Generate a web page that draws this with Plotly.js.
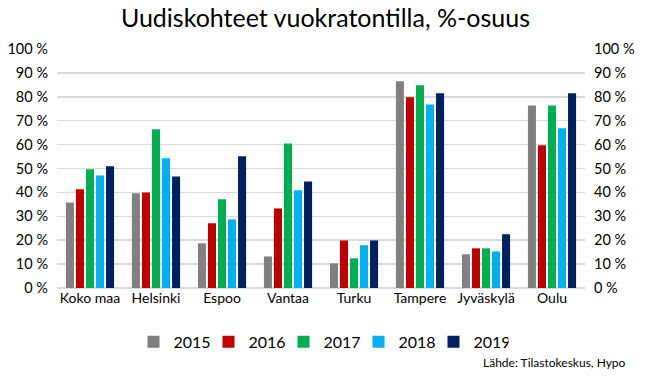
<!DOCTYPE html>
<html>
<head>
<meta charset="utf-8">
<script src="https://cdn.plot.ly/plotly-3.0.1.min.js"></script>
<style>html,body{margin:0;padding:0;background:#fff;}#chart{width:651px;height:377px;}</style>
</head>
<body>
<div id="chart"></div>
<script>
const categories = ["Koko maa", "Helsinki", "Espoo", "Vantaa", "Turku", "Tampere", "Jyväskylä", "Oulu"];
const years = ["2015", "2016", "2017", "2018", "2019"];
const v2015 = [35.8, 39.6, 18.7, 13.2, 10.3, 86.5, 14.1, 76.4];
const v2016 = [41.3, 40.0, 27.1, 33.3, 19.9, 79.8, 16.6, 59.7];
const v2017 = [49.7, 66.4, 37.1, 60.5, 12.4, 84.8, 16.6, 76.4];
const v2018 = [47.1, 54.3, 28.7, 40.9, 17.9, 76.8, 15.3, 66.8];
const v2019 = [50.9, 46.7, 55.1, 44.6, 19.9, 81.5, 22.5, 81.5];
const colors = ["#808080", "#c00000", "#00b050", "#00b0f0", "#002060"];
const series = [v2015, v2016, v2017, v2018, v2019];

const FONT = "Lato, 'Liberation Sans', sans-serif";
const traces = series.map((vals, i) => ({
  type: "bar",
  name: years[i],
  x: categories,
  y: vals,
  marker: {color: colors[i]},
  hoverinfo: "skip"
}));
// invisible trace to carry the right-hand axis
traces.push({
  type: "scatter", mode: "markers", x: categories, y: v2015, yaxis: "y2",
  marker: {opacity: 0}, showlegend: false, hoverinfo: "skip"
});

const layout = {
  width: 651, height: 377,
  margin: {l: 57, r: 66, t: 49, b: 89},
  paper_bgcolor: "#fff", plot_bgcolor: "#fff",
  font: {family: FONT, color: "#000"},
  title: {text: "Uudiskohteet vuokratontilla, %-osuus", font: {family: FONT, size: 25, color: "#000"},
          x: 0.5, xanchor: "center", y: 0.952, yanchor: "middle"},
  barmode: "group",
  bargap: 0.24,
  bargroupgap: 0.2,
  xaxis: {
    type: "category", showgrid: false, zeroline: false, showline: false,
    ticks: "", tickfont: {family: FONT, size: 14, color: "#000"}, fixedrange: true
  },
  yaxis: {
    range: [0, 100], dtick: 10, ticksuffix: " %", showgrid: true, gridcolor: "#d9d9d9", gridwidth: 1.5,
    zeroline: true, zerolinecolor: "#d9d9d9", zerolinewidth: 1.5, showline: false, ticks: "",
    tickfont: {family: FONT, size: 14.5, color: "#000"}, ticklabelstandoff: 8
  },
  yaxis2: {
    range: [0, 100], dtick: 10, ticksuffix: " %", overlaying: "y", side: "right",
    showgrid: false, zeroline: false, showline: false, ticks: "",
    tickfont: {family: FONT, size: 14.5, color: "#000"}, ticklabelstandoff: 8
  },
  legend: {
    orientation: "h", x: 0.5, xanchor: "center", y: -0.225, yanchor: "middle",
    font: {family: FONT, size: 16, color: "#000"}, entrywidth: 30, itemwidth: 30
  },
  annotations: [{
    text: "Lähde: Tilastokeskus, Hypo", xref: "paper", yref: "paper",
    x: 1.081, y: -0.311, xanchor: "right", yanchor: "middle", showarrow: false,
    font: {family: FONT, size: 12, color: "#000"}
  }],
  showlegend: true
};

Plotly.newPlot("chart", traces, layout, {displayModeBar: false, staticPlot: true});
</script>
</body>
</html>
